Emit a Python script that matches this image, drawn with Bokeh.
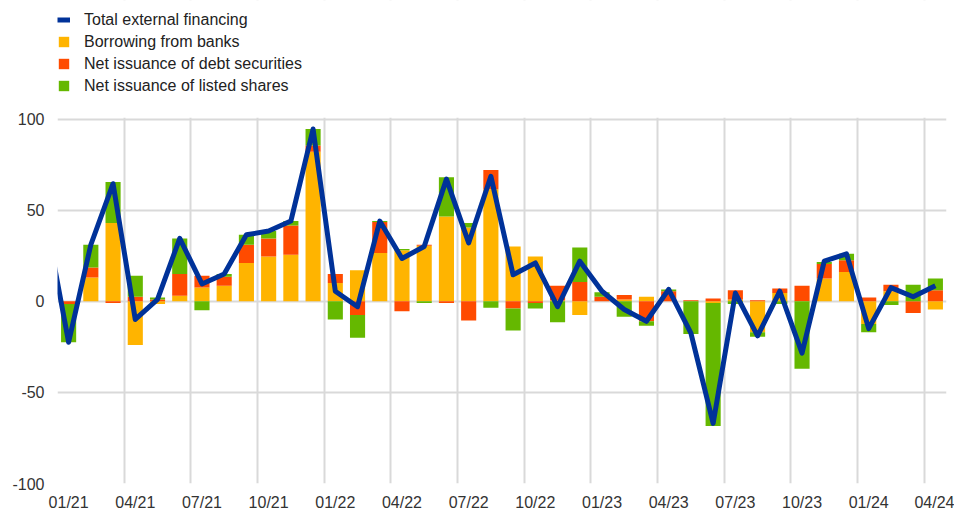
import numpy as np
from bokeh.plotting import figure
from bokeh.models import Range1d, FixedTicker, Legend, LegendItem, ColumnDataSource, BoxAnnotation
from bokeh.embed import file_html
from bokeh.resources import INLINE

months = ["01/21", "02/21", "03/21", "04/21", "05/21", "06/21", "07/21", "08/21", "09/21", "10/21",
          "11/21", "12/21", "01/22", "02/22", "03/22", "04/22", "05/22", "06/22", "07/22", "08/22",
          "09/22", "10/22", "11/22", "12/22", "01/23", "02/23", "03/23", "04/23", "05/23", "06/23",
          "07/23", "08/23", "09/23", "10/23", "11/23", "12/23", "01/24", "02/24", "03/24", "04/24"]

banks = [0, 13, 43, -24, -1.5, 3, 7.5, 8.5, 21, 24.5,
         25.5, 82, 10, 17, 26.5, 28, 30.5, 46.5, 40.5, 61.5,
         30, 24.5, 0.5, -7.5, 0, 1, 2.5, 0, 0, -1,
         1, -17, 4.5, 0, 12.5, 16, -12.5, 5.5, 0, -4.5]
debt = [-1.5, 5.5, -1, 2.5, 1, 12, 6.5, 5, 10, 10,
        16, 3.5, 5, -7.5, 17, -5.5, 0.5, -1, -10.5, 10.5,
        -4, -1, 8, 10.5, 2.5, 2.5, -11, 5.5, 0.5, 1.5,
        5, 0.5, 2.5, 8.5, 8, 6.5, 2, 3.5, -6.5, 6]
shares = [-21, 12.5, 22.5, 11.5, 1, 19.5, -5, 1.5, 5.5, 4,
          2.5, 9, -10, -12.5, 0.5, 0.7, -1, 21.5, 2.5, -3.5,
          -12, -3, -11.5, 19, 2.5, -8.5, -2.5, 1, -18, -67.5,
          -1.5, -2.5, -1.5, -37, 1, 3.5, -4.5, -2, 9, 6.5]
total = [-22.5, 31, 64.5, -10, 1, 34.5, 9.5, 15, 36.5, 38.5,
         44, 94.5, 5.5, -3, 44, 23.5, 30, 67, 32, 68.5,
         14.5, 21, -3, 22, 5.5, -4.5, -11, 6.5, -17.5, -67,
         4.5, -19, 5.5, -28.5, 22, 26, -15, 7.5, 2.5, 8.5]
total_dec20 = 43  # previous month, only visible as the line entering from the left edge

series_names = ["Borrowing from banks", "Net issuance of debt securities", "Net issuance of listed shares"]
series_values = [banks, debt, shares]
series_colors = ["#FFB400", "#FF4B00", "#65B800"]
line_name = "Total external financing"
line_color = "#003299"

y_ticks = [-100, -50, 0, 50, 100]
y_tick_labels = ["-100", "-50", "0", "50", "100"]
label_every = 3

n = len(months)
xc = np.arange(n) + 0.5

# layout (pixels)
W, H = 954, 513
border_left, border_right, border_bottom = 57, 8, 28
axis_top_px = 119          # where the value 100 sits
frame_h = H - border_bottom
ymin, ymax = min(y_ticks), max(y_ticks)
ppu = (frame_h - axis_top_px) / (ymax - ymin)
y_top = ymax + axis_top_px / ppu   # extra headroom for the legend

p = figure(width=W, height=H, output_backend="svg", toolbar_location=None,
           x_range=Range1d(0, n), y_range=Range1d(ymin, y_top),
           min_border_left=border_left, min_border_right=border_right,
           min_border_top=0, min_border_bottom=border_bottom)
p.outline_line_color = None
p.background_fill_color = "white"

# stacked bars (positive up, negative down)
pos = np.zeros(n)
neg = np.zeros(n)
bar_renderers = []
for vals, col in zip(series_values, series_colors):
    v = np.array(vals, dtype=float)
    bottom = np.where(v >= 0, pos, neg)
    top = bottom + v
    pos = np.where(v >= 0, pos + v, pos)
    neg = np.where(v < 0, neg + v, neg)
    src = ColumnDataSource(dict(x=xc, bottom=bottom, top=top))
    r = p.vbar(x="x", bottom="bottom", top="top", width=0.68, source=src,
               fill_color=col, line_color=None)
    bar_renderers.append(r)

line_src = ColumnDataSource(dict(x=np.concatenate([[-0.5], xc]),
                                 y=np.concatenate([[total_dec20], np.array(total, dtype=float)])))
lr = p.line(x="x", y="y", source=line_src, line_color=line_color, line_width=5, line_join="round")

# axes
tick_pos = [float(x) for x in xc[::label_every]]
p.xaxis.ticker = FixedTicker(ticks=tick_pos)
p.xaxis.major_label_overrides = {float(x): months[i] for i, x in zip(range(0, n, label_every), tick_pos)}
p.yaxis.ticker = FixedTicker(ticks=y_ticks)
p.yaxis.major_label_overrides = {t: s for t, s in zip(y_ticks, y_tick_labels)}
for ax in (p.xaxis, p.yaxis):
    ax.axis_line_color = None
    ax.major_tick_line_color = None
    ax.minor_tick_line_color = None
    ax.major_tick_out = 0
    ax.major_tick_in = 0
    ax.major_label_text_font = "Liberation Sans"
    ax.major_label_text_font_size = "16px"
    ax.major_label_text_color = "#333333"
p.xaxis.major_label_standoff = 10
p.yaxis.major_label_standoff = 13

p.xgrid.ticker = FixedTicker(ticks=list(range(0, n, label_every)))
p.ygrid.ticker = FixedTicker(ticks=y_ticks)
for g in (p.xgrid, p.ygrid):
    g.grid_line_color = "#d9d9d9"
    g.grid_line_width = 2

# hide the vertical grid above the value axis top (legend area)
p.add_layout(BoxAnnotation(bottom=ymax + 1.2 / ppu, fill_color="white", fill_alpha=1,
                           line_color=None, level="underlay"))

items = [LegendItem(label=line_name, renderers=[lr])]
for name, r in zip(series_names, bar_renderers):
    items.append(LegendItem(label=name, renderers=[r]))
legend = Legend(items=items, location=(0, frame_h - 97), orientation="vertical",
                glyph_width=13, glyph_height=13, label_height=19, spacing=3,
                padding=0, margin=0, label_standoff=14,
                label_text_font="Liberation Sans", label_text_font_size="16px",
                label_text_color="#222222", border_line_color=None,
                background_fill_alpha=0)
p.add_layout(legend, "center")

open("out.html", "w").write(file_html(p, INLINE))
